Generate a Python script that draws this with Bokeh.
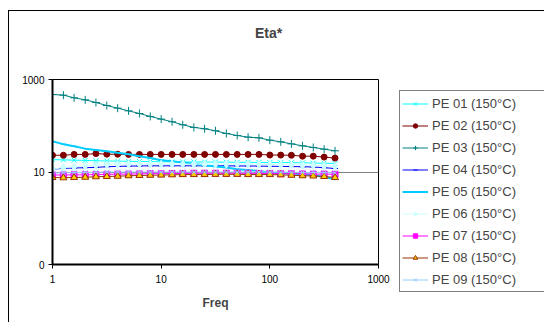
from bokeh.plotting import figure
from bokeh.layouts import row, column
from bokeh.models import (ColumnDataSource, FixedTicker, CustomJSTickFormatter,
                          Legend, LegendItem, Label, Range1d)
from bokeh.embed import file_html
from bokeh.resources import INLINE

freq = [1, 1.26, 1.58, 2, 2.51, 3.16, 3.98, 5.01, 6.31, 7.94, 10, 12.6, 15.8, 20,
        25.1, 31.6, 39.8, 50.1, 63.1, 79.4, 100, 126, 158, 200, 251, 316, 398]

pe01 = [18.5, 18.3, 18, 17.8, 17.5, 17.3, 17.2, 17, 16.9, 16.8, 16.7, 16.6, 16.5, 16.5,
        16.4, 16.4, 16.3, 16.2, 16.2, 16.1, 16, 16, 15.9, 15.8, 15.6, 15.5, 15.3]
pe02 = [23, 23, 24, 24, 25, 24.3, 24.2, 24, 24, 24, 24, 24, 24, 24,
        24, 24, 24, 24, 24, 24, 23.3, 23.2, 23, 22, 22, 21, 20]
pe03 = [474, 459, 402, 363, 318, 274, 240, 210, 184, 159, 139, 122, 105, 92,
        86, 78, 68, 61.5, 56.6, 54.8, 48.8, 44.9, 40.6, 36.8, 33.9, 31.2, 28.7]
pe04 = [11.5, 12, 12.2, 12.4, 12.6, 13, 13.2, 13.4, 13.5, 13.6, 13.6, 13.6, 13.6, 13.6,
        13.6, 13.6, 13.6, 13.5, 13.5, 13.4, 13.3, 13.2, 13.1, 13, 12.8, 12.4, 11.9]
pe05 = [46, 40, 36, 32, 30, 28, 26, 24.3, 22, 20, 18, 17, 16, 15,
        14, 13.2, 12.5, 11.5, 11, 10.5, 9.8, 9.5, 9.2, 9, 8.5, 7.8, 7]
pe06 = [11.5, 12.5, 13, 13.5, 14, 14.3, 14.5, 14.7, 14.8, 14.8, 14.8, 14.8, 14.8, 14.8,
        14.8, 14.8, 14.8, 14.8, 14.7, 14.6, 14.5, 14.3, 14.2, 14, 13.8, 13.5, 13.2]
pe07 = [8.6, 8.6, 8.7, 8.7, 8.8, 8.9, 9, 9, 9.1, 9.2, 9.2, 9.3, 9.3, 9.4,
        9.4, 9.4, 9.4, 9.4, 9.4, 9.3, 9.3, 9.2, 9.2, 9.1, 9, 9, 8.9]
pe08 = [7.6, 7.5, 7.6, 7.7, 7.9, 8, 8.1, 8.3, 8.4, 8.5, 8.6, 8.7, 8.8, 8.8,
        8.8, 8.9, 8.9, 8.9, 8.8, 8.8, 8.8, 8.7, 8.5, 8.3, 8.2, 8, 7.6]
pe09 = [9.5, 9.6, 9.7, 9.8, 9.9, 10, 10, 10, 10, 10, 10, 10, 10, 10,
        10, 10, 10, 10, 10, 10, 10, 9.9, 9.9, 9.8, 9.8, 9.7, 9.6]

names = ["PE 01 (150°C)", "PE 02 (150°C)", "PE 03 (150°C)", "PE 04 (150°C)",
         "PE 05 (150°C)", "PE 06 (150°C)", "PE 07 (150°C)", "PE 08 (150°C)",
         "PE 09 (150°C)"]
series = [pe01, pe02, pe03, pe04, pe05, pe06, pe07, pe08, pe09]

x_ticks = [1, 10, 100, 1000]
y_ticks = [0.1, 10, 1000]
title_text = "Eta*"
x_title = "Freq"

styles = [
    dict(color="#00FFFF", marker="x", size=7, fill="#00FFFF", lw=1),
    dict(color="#800000", marker="circle", size=6, fill="#800000", lw=1),
    dict(color="#008080", marker="cross", size=8, fill="#008080", lw=1),
    dict(color="#0000FF", marker="dash", size=6, fill="#0000FF", lw=1),
    dict(color="#00CCFF", marker="dash", size=6, fill="#00CCFF", lw=2),
    dict(color="#CCFFFF", marker="diamond", size=8, fill="#CCFFFF", lw=1),
    dict(color="#FF00FF", marker="square", size=6, fill="#FF00FF", lw=1),
    dict(color="#993300", marker="triangle", size=7, fill="#FFCC00", lw=1),
    dict(color="#99CCFF", marker="x", size=7, fill="#99CCFF", lw=1),
]

FONT = "Liberation Sans"


def no_align(fig):
    if "frame_align" in fig.properties():
        fig.frame_align = False


# title strip
t = figure(width=535, height=60, output_backend="svg", toolbar_location=None,
           x_axis_location=None, y_axis_location=None,
           x_range=Range1d(0, 535), y_range=Range1d(0, 60), min_border=0)
t.outline_line_color = None
t.grid.grid_line_color = None
t.border_fill_color = "white"
t.add_layout(Label(x=259, y=39, text=title_text, text_align="center",
                   text_baseline="middle", text_font=FONT,
                   text_font_style="bold", text_font_size="14px"))
no_align(t)

# main plot
p = figure(width=390, height=251, output_backend="svg", toolbar_location=None,
           x_axis_type="log", y_axis_type="log",
           x_range=Range1d(1, 1000), y_range=Range1d(0.1, 1000),
           min_border_left=43, min_border_right=21, min_border_top=8,
           min_border_bottom=58)
p.background_fill_color = "white"
p.border_fill_color = "white"
p.outline_line_color = "black"
p.outline_line_width = 1
no_align(p)

p.xaxis.ticker = FixedTicker(ticks=x_ticks, minor_ticks=[])
p.yaxis.ticker = FixedTicker(ticks=y_ticks, minor_ticks=[])
p.xaxis.formatter = CustomJSTickFormatter(code="return tick.toFixed(0);")
p.yaxis.formatter = CustomJSTickFormatter(code="return tick < 1 ? '0' : tick.toFixed(0);")
for ax in (p.xaxis, p.yaxis):
    ax.axis_line_width = 2
    ax.axis_line_color = "black"
    ax.major_tick_out = 4
    ax.major_tick_in = 0
    ax.minor_tick_out = 0
    ax.minor_tick_in = 0
    ax.major_tick_line_color = "black"
    ax.major_label_text_font = FONT
    ax.major_label_text_font_size = "10px"
    ax.major_label_text_color = "black"
p.xaxis.major_label_standoff = 6
p.yaxis.major_label_standoff = 4
p.xaxis.axis_label = x_title
p.xaxis.axis_label_text_font = FONT
p.xaxis.axis_label_text_font_style = "bold"
p.xaxis.axis_label_text_font_size = "12px"
p.xaxis.axis_label_standoff = 10
p.xgrid.grid_line_color = None
p.ygrid.ticker = FixedTicker(ticks=[10])
p.ygrid.grid_line_color = "#808080"
p.ygrid.grid_line_width = 1

# legend panel: a second plot holding only the legend (its ranges hide the data)
q = figure(width=145, height=251, output_backend="svg", toolbar_location=None,
           x_axis_location=None, y_axis_location=None,
           x_range=Range1d(-2, -1), y_range=Range1d(-2, -1),
           min_border_left=0, min_border_right=0, min_border_top=19,
           min_border_bottom=0)
q.outline_line_color = None
q.grid.grid_line_color = None
q.background_fill_color = "white"
q.border_fill_color = "white"
no_align(q)

items = []
for name, ys, st in zip(names, series, styles):
    src = ColumnDataSource(dict(x=freq, y=ys))
    for fig, coll in ((p, None), (q, items)):
        r1 = fig.line("x", "y", source=src, line_color=st["color"], line_width=st["lw"])
        r2 = fig.scatter("x", "y", source=src, marker=st["marker"], size=st["size"],
                         line_color=st["color"], fill_color=st["fill"], line_width=1)
        if coll is not None:
            coll.append(LegendItem(label=name, renderers=[r1, r2]))

legend = Legend(items=items, location="top_left")
legend.label_text_font = FONT
legend.label_text_font_size = "13px"
legend.label_height = 20
legend.glyph_height = 11
legend.glyph_width = 26
legend.label_width = 118
legend.spacing = 2
legend.padding = 2
legend.margin = 0
legend.label_standoff = 4
legend.border_line_color = "black"
legend.border_line_width = 1
legend.background_fill_alpha = 1
q.add_layout(legend, "center")

layout = column(t, row(p, q, spacing=0), spacing=0, margin=(10, 0, 0, 8),
                styles={"border-left": "1px solid black", "border-top": "1px solid black"})

open("out.html", "w").write(file_html(layout, INLINE))
